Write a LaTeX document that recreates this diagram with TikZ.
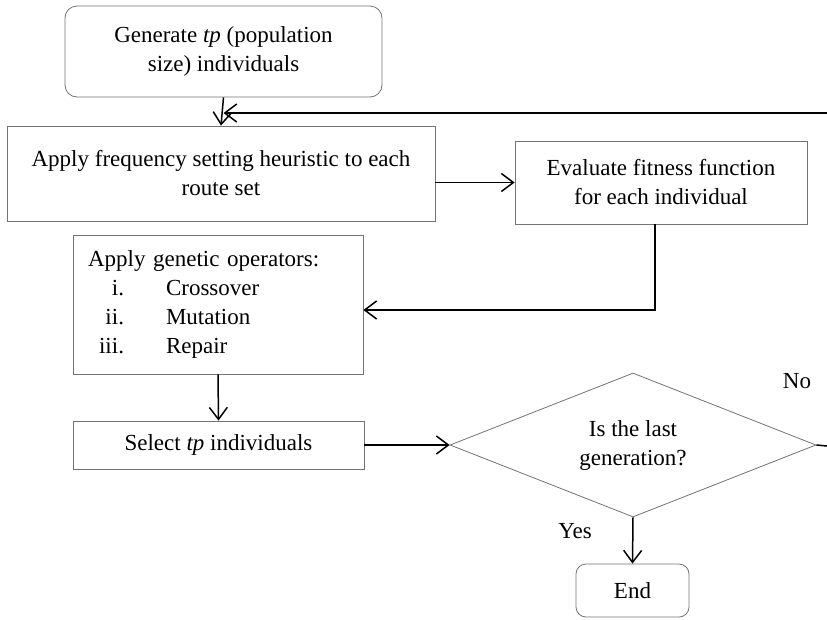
\documentclass[tikz,border=0pt]{standalone}
\usepackage{fontspec}
\setmainfont{Liberation Serif}
\usetikzlibrary{arrows.meta,shapes.geometric}
\begin{document}
\begin{tikzpicture}[x=1pt,y=-1pt,
  font=\fontsize{23}{29}\selectfont,
  box/.style={draw=black!55,line width=0.8pt,rectangle,inner sep=0pt,align=center},
  rbox/.style={box,rounded corners=12pt},
  conn/.style={draw=black,line width=1.5pt,-{Straight Barb[length=12pt,width=18pt,line width=1.5pt]}},
  plain/.style={draw=black,line width=1.5pt},
  lbl/.style={inner sep=0pt}]
\useasboundingbox (0,0) rectangle (827,619);
\node[rbox,minimum width=317pt,minimum height=91pt] (gen) at (223.5,51.5) {Generate \textit{tp} (population\\size) individuals};
\node[box,minimum width=428pt,minimum height=95pt] (freq) at (221,173.5) {Apply frequency setting heuristic to each\\route set};
\node[box,minimum width=292pt,minimum height=83pt] (eval) at (661,182.5) {Evaluate fitness function\\for each individual};
\node[box,minimum width=290pt,minimum height=139pt,text width=260pt,align=left,inner xsep=15pt] (gop) at (218,304.5)
  {Apply genetic operators:\\
   \makebox[36pt][r]{i.}\hspace{42pt}Crossover\\
   \makebox[36pt][r]{ii.}\hspace{42pt}Mutation\\
   \makebox[36pt][r]{iii.}\hspace{42pt}Repair};
\node[box,minimum width=291pt,minimum height=48pt] (sel) at (218.5,445) {Select \textit{tp} individuals};
\node[draw=black!55,line width=0.8pt,diamond,shape aspect=2.5,inner sep=0pt,minimum width=366pt,minimum height=144pt,align=center] (dia) at (633,445) {Is the last\\generation?};
\node[rbox,rounded corners=10pt,minimum width=113pt,minimum height=53pt] (end) at (632.5,590.5) {End};
\node[lbl] (no) at (797,381) {No};
\node[lbl] (yes) at (575,531) {Yes};
\coordinate (fb) at (827,113);
\coordinate (noend) at (827,446);
\draw[conn] (gen.south) -- (freq.north);
\draw[conn] (fb) -- (gen.south |- fb);
\draw[conn] (freq.east |- eval.west) -- (eval.west);
\draw[conn] ([xshift=-6pt]eval.south) |- ([yshift=-5.5pt]gop.east);
\draw[conn] (gop.south) -- (sel.north);
\draw[conn] (sel.east) -- (dia.west);
\draw[plain] (dia.east) -- (noend);
\draw[conn] (dia.south) -- (end.north);
\end{tikzpicture}
\end{document}
